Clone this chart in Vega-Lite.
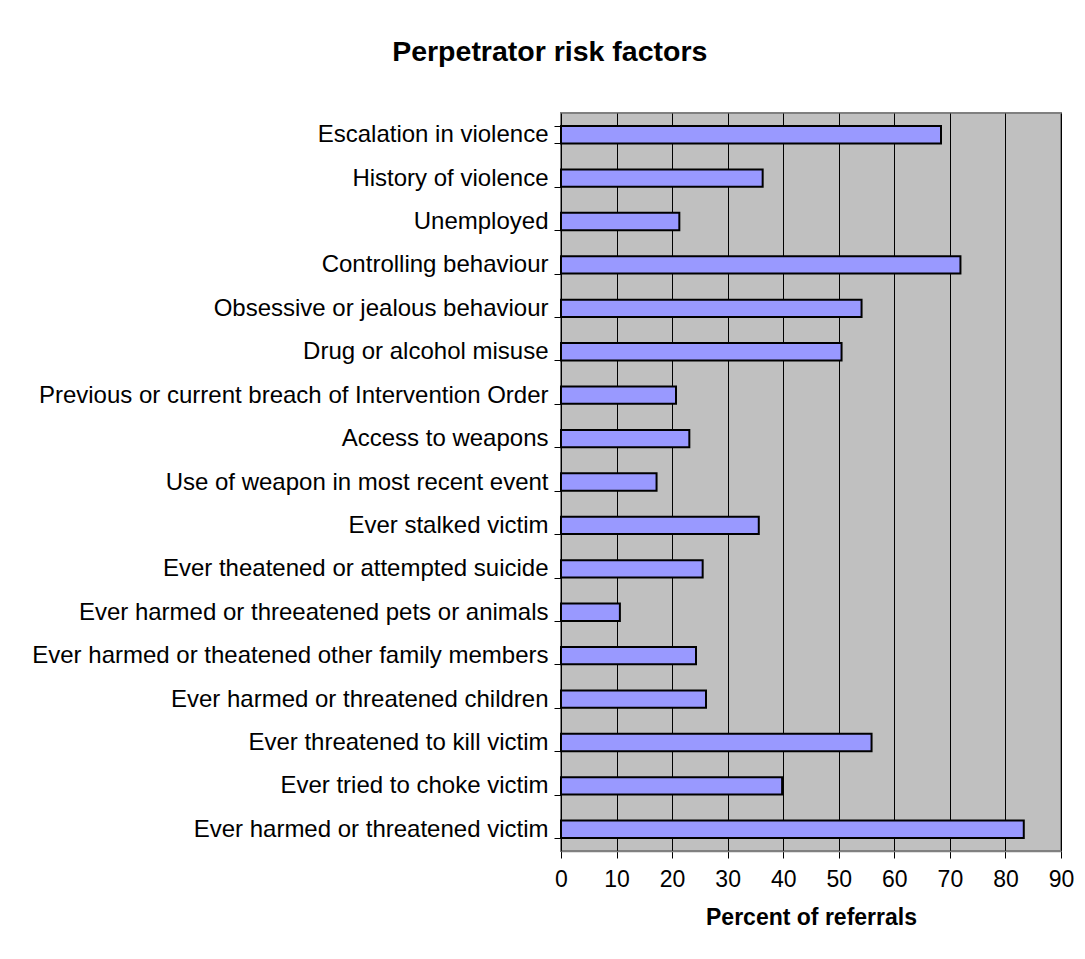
{
  "$schema": "https://vega.github.io/schema/vega-lite/v6.json",
  "autosize": {"type": "none"},
  "padding": {"left": 561, "top": 113, "right": 24, "bottom": 108},
  "width": 500,
  "height": 738,
  "background": "white",
  "title": {
    "text": "Perpetrator risk factors",
    "font": "Liberation Sans",
    "fontSize": 28.5,
    "fontWeight": "bold",
    "color": "black",
    "anchor": "middle",
    "frame": "bounds",
    "offset": 35,
    "dx": -3
  },
  "data": {
    "values": [
      {"factor": "Escalation in violence", "pct": 68.4},
      {"factor": "History of violence", "pct": 36.3},
      {"factor": "Unemployed", "pct": 21.3},
      {"factor": "Controlling behaviour", "pct": 71.9},
      {"factor": "Obsessive or jealous behaviour", "pct": 54.1},
      {"factor": "Drug or alcohol misuse", "pct": 50.5},
      {"factor": "Previous or current breach of Intervention Order", "pct": 20.7},
      {"factor": "Access to weapons", "pct": 23.1},
      {"factor": "Use of weapon in most recent event", "pct": 17.2},
      {"factor": "Ever stalked victim", "pct": 35.6},
      {"factor": "Ever theatened or attempted suicide", "pct": 25.5},
      {"factor": "Ever harmed or threeatened pets or animals", "pct": 10.6},
      {"factor": "Ever harmed or theatened other family members", "pct": 24.3},
      {"factor": "Ever harmed or threatened children", "pct": 26.1},
      {"factor": "Ever threatened to kill victim", "pct": 55.9},
      {"factor": "Ever tried to choke victim", "pct": 39.8},
      {"factor": "Ever harmed or threatened victim", "pct": 83.3}
    ]
  },
  "mark": {"type": "bar", "fill": "#9999FF", "stroke": "black", "strokeWidth": 2},
  "encoding": {
    "y": {
      "field": "factor",
      "type": "nominal",
      "sort": null,
      "scale": {"paddingInner": 0.6, "paddingOuter": 0.3},
      "axis": {
        "title": null,
        "tickBand": "extent",
        "tickSize": 7,
        "tickColor": "black",
        "domain": false,
        "grid": false,
        "labelFont": "Liberation Sans",
        "labelFontSize": 24,
        "labelColor": "black",
        "labelPadding": 6,
        "labelLimit": 700
      }
    },
    "x": {
      "field": "pct",
      "type": "quantitative",
      "scale": {"domain": [0, 90], "nice": false},
      "axis": {
        "title": "Percent of referrals",
        "titleFont": "Liberation Sans",
        "titleFontSize": 23,
        "titleFontWeight": "bold",
        "titleColor": "black",
        "titlePadding": 15,
        "values": [0, 10, 20, 30, 40, 50, 60, 70, 80, 90],
        "tickSize": 7,
        "tickColor": "black",
        "domainColor": "#808080",
        "domainWidth": 1.5,
        "grid": true,
        "gridColor": "black",
        "gridWidth": 1,
        "labelFont": "Liberation Sans",
        "labelFontSize": 23,
        "labelColor": "black",
        "labelPadding": 10,
        "labelFlush": false
      }
    }
  },
  "config": {
    "view": {"fill": "#C0C0C0", "stroke": "#808080", "strokeWidth": 2}
  }
}
